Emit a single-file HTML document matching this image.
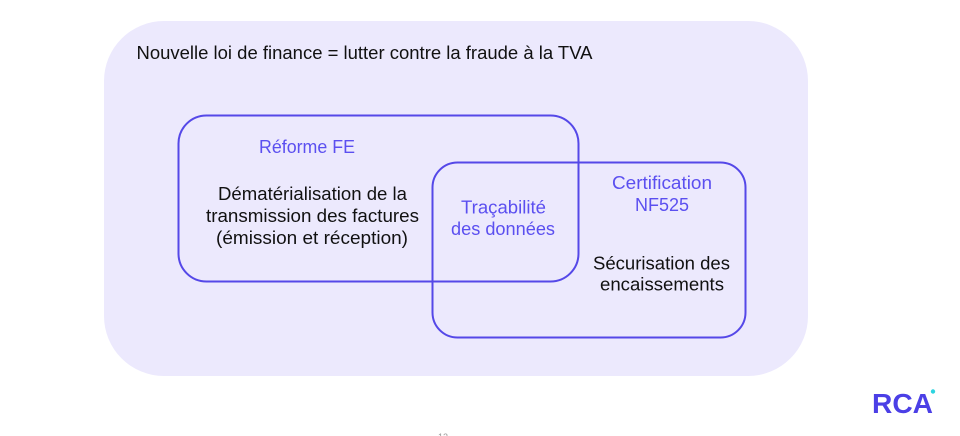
<!DOCTYPE html>
<html>
<head>
<meta charset="utf-8">
<style>
html,body{margin:0;padding:0;background:#fff;}
body{width:960px;height:436px;overflow:hidden;}
svg{display:block;}
text{font-family:"Liberation Sans","DejaVu Sans",sans-serif;}
</style>
</head>
<body>
<svg width="960" height="436" viewBox="0 0 960 436" xmlns="http://www.w3.org/2000/svg">
  <rect x="0" y="0" width="960" height="436" fill="#ffffff"/>
  <rect x="104" y="21" width="704" height="355" rx="60" ry="60" fill="#ECE9FD"/>
  <text x="136.5" y="59" font-size="18.5" fill="#111111" textLength="456" lengthAdjust="spacingAndGlyphs">Nouvelle loi de finance = lutter contre la fraude à la TVA</text>

  <rect x="178.5" y="115.5" width="400" height="166" rx="28" ry="28" fill="none" stroke="#5548E8" stroke-width="2"/>
  <rect x="432.5" y="162.5" width="313" height="175" rx="25" ry="25" fill="none" stroke="#5548E8" stroke-width="2"/>

  <g font-size="18" text-anchor="middle" lengthAdjust="spacingAndGlyphs">
    <text x="307" y="153" fill="#5B4FF0" textLength="96" lengthAdjust="spacingAndGlyphs">Réforme FE</text>
    <text x="312.5" y="200" fill="#111111" textLength="189" lengthAdjust="spacingAndGlyphs">Dématérialisation de la</text>
    <text x="312.5" y="222" fill="#111111" textLength="213" lengthAdjust="spacingAndGlyphs">transmission des factures</text>
    <text x="312" y="244" fill="#111111" textLength="192" lengthAdjust="spacingAndGlyphs">(émission et réception)</text>

    <text x="503.5" y="213.5" fill="#5B4FF0" textLength="85" lengthAdjust="spacingAndGlyphs">Traçabilité</text>
    <text x="503" y="235" fill="#5B4FF0" textLength="104" lengthAdjust="spacingAndGlyphs">des données</text>

    <text x="662" y="189" fill="#5B4FF0" textLength="100" lengthAdjust="spacingAndGlyphs">Certification</text>
    <text x="662" y="211" fill="#5B4FF0" textLength="54" lengthAdjust="spacingAndGlyphs">NF525</text>

    <text x="661.5" y="269.5" fill="#111111" textLength="137" lengthAdjust="spacingAndGlyphs">Sécurisation des</text>
    <text x="662" y="290.5" fill="#111111" textLength="124" lengthAdjust="spacingAndGlyphs">encaissements</text>
  </g>

  <text x="872" y="413" font-size="28" font-weight="bold" fill="#4B3FE6" textLength="61" lengthAdjust="spacingAndGlyphs">RCA</text>
  <circle cx="933" cy="391.5" r="2.2" fill="#2DD4E0"/>

  <text x="443" y="440" font-size="9" fill="#999999" text-anchor="middle">12</text>
</svg>
</body>
</html>
